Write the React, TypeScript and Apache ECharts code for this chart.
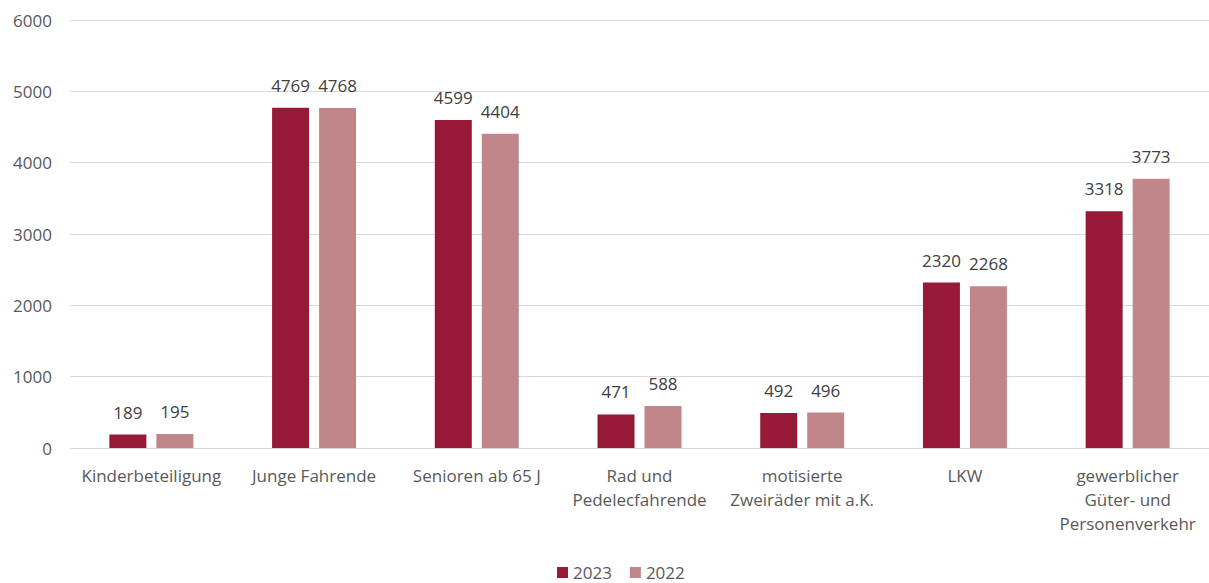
import React, { useEffect, useRef } from "react";
import * as echarts from "echarts";

const categories = [
  "Kinderbeteiligung",
  "Junge Fahrende",
  "Senioren ab 65 J",
  "Rad und\nPedelecfahrende",
  "motisierte\nZweiräder mit a.K.",
  "LKW",
  "gewerblicher\nGüter- und\nPersonenverkehr",
];
const values2023 = [189, 4769, 4599, 471, 492, 2320, 3318];
const values2022 = [195, 4768, 4404, 588, 496, 2268, 3773];
const yTicks = { min: 0, max: 6000, interval: 1000 };

const FONT = "'Open Sans', 'Noto Sans', sans-serif";

export default function App() {
  const ref = useRef<HTMLDivElement>(null);
  useEffect(() => {
    if (!ref.current) return;
    const chart = echarts.init(ref.current, undefined, { renderer: "svg" });
    const label = {
      show: true,
      position: "top" as const,
      distance: 14,
      color: "#404040",
      fontSize: 17,
      fontFamily: FONT,
    };
    chart.setOption({
      animation: false,
      textStyle: { fontFamily: FONT },
      grid: { left: 70, width: 1145, top: 20, height: 428 },
      legend: {
        top: 564,
        left: 557,
        padding: 0,
        itemWidth: 11,
        itemHeight: 11,
        itemGap: 18,
        icon: "rect",
        textStyle: { color: "#595959", fontSize: 17, fontFamily: FONT },
        data: ["2023", "2022"],
      },
      xAxis: {
        type: "category",
        data: categories,
        axisLine: { lineStyle: { color: "#d9d9d9" } },
        axisTick: { show: false },
        axisLabel: {
          color: "#595959",
          fontSize: 17,
          fontFamily: FONT,
          lineHeight: 24,
          margin: 15,
          interval: 0,
        },
      },
      yAxis: {
        type: "value",
        min: yTicks.min,
        max: yTicks.max,
        interval: yTicks.interval,
        axisLine: { show: false },
        axisTick: { show: false },
        axisLabel: {
          color: "#595959",
          fontSize: 17,
          fontFamily: FONT,
          margin: 18,
          formatter: (v: number) => String(v),
        },
        splitLine: { lineStyle: { color: "#d9d9d9" } },
      },
      series: [
        {
          name: "2023",
          type: "bar",
          data: values2023,
          barWidth: 37,
          barGap: "27%",
          itemStyle: { color: "#961A37" },
          label,
        },
        {
          name: "2022",
          type: "bar",
          data: values2022,
          barWidth: 37,
          barGap: "27%",
          itemStyle: { color: "#C1868A" },
          label,
        },
      ],
    });
    return () => chart.dispose();
  }, []);
  return (
    <div
      ref={ref}
      style={{ position: "absolute", left: 0, top: 0, width: 1209, height: 583 }}
    />
  );
}
